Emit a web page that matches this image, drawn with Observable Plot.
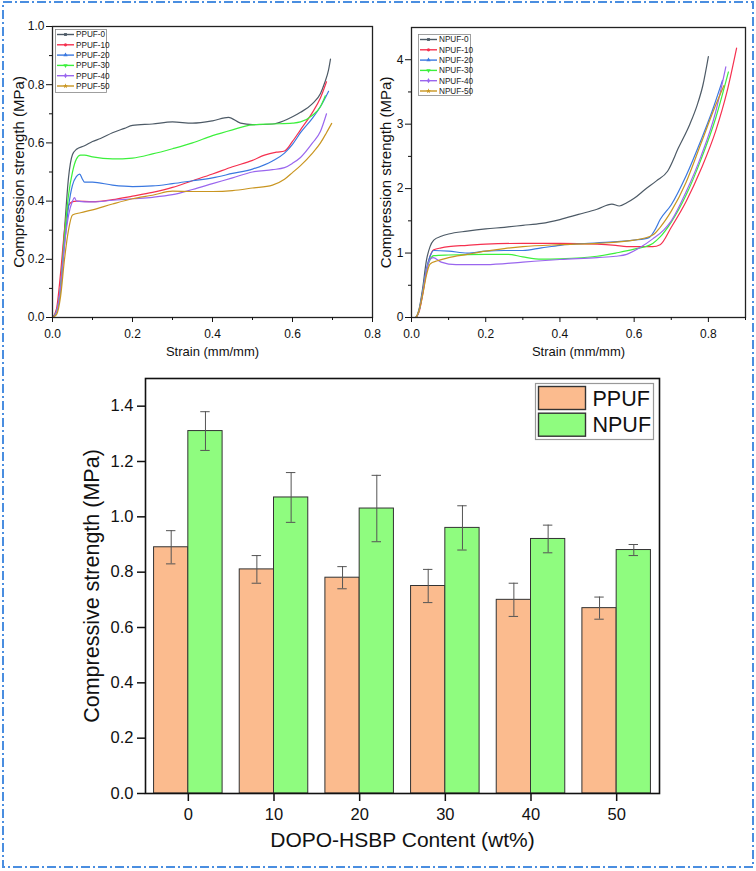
<!DOCTYPE html>
<html><head><meta charset="utf-8">
<script src="https://cdn.jsdelivr.net/npm/d3@7"></script>
<script src="https://cdn.jsdelivr.net/npm/@observablehq/plot@0.6"></script>
<style>
body{margin:0;background:#fff;}
#fig{position:relative;width:756px;height:871px;overflow:hidden;background:#fff;font-family:"Liberation Sans",Arial,sans-serif;}
</style></head><body><div id="fig"></div>
<script>
// ---------- DATA: stress-strain curves (strain mm/mm, stress MPa) ----------
const PPUF_0 = [[0,0],[0.01,0.02],[0.02,0.1],[0.03,0.3],[0.04,0.48],[0.05,0.56],[0.06,0.578],[0.08,0.59],[0.1,0.605],[0.12,0.615],[0.15,0.635],[0.18,0.65],[0.2,0.66],[0.25,0.665],[0.3,0.672],[0.35,0.668],[0.4,0.676],[0.44,0.688],[0.47,0.668],[0.5,0.663],[0.55,0.665],[0.58,0.677],[0.6,0.69],[0.62,0.705],[0.65,0.735],[0.67,0.77],[0.68,0.805],[0.69,0.85],[0.695,0.888]];
const PPUF_10 = [[0,0],[0.01,0.03],[0.02,0.15],[0.03,0.3],[0.04,0.385],[0.05,0.398],[0.06,0.4],[0.1,0.398],[0.15,0.405],[0.2,0.417],[0.25,0.43],[0.3,0.447],[0.35,0.47],[0.4,0.493],[0.45,0.518],[0.5,0.54],[0.53,0.558],[0.56,0.568],[0.58,0.572],[0.6,0.605],[0.62,0.645],[0.65,0.705],[0.67,0.755],[0.685,0.81]];
const PPUF_20 = [[0,0],[0.01,0.02],[0.02,0.1],[0.03,0.25],[0.04,0.38],[0.05,0.455],[0.06,0.485],[0.068,0.493],[0.075,0.475],[0.08,0.465],[0.1,0.465],[0.15,0.455],[0.2,0.45],[0.25,0.452],[0.3,0.46],[0.35,0.47],[0.4,0.48],[0.45,0.495],[0.5,0.51],[0.55,0.538],[0.58,0.565],[0.6,0.595],[0.62,0.635],[0.65,0.685],[0.67,0.725],[0.69,0.777]];
const PPUF_30 = [[0,0],[0.01,0.02],[0.02,0.1],[0.03,0.28],[0.04,0.42],[0.05,0.5],[0.06,0.545],[0.07,0.558],[0.08,0.558],[0.1,0.552],[0.15,0.545],[0.2,0.548],[0.25,0.562],[0.3,0.58],[0.35,0.6],[0.4,0.625],[0.45,0.645],[0.5,0.662],[0.55,0.665],[0.6,0.668],[0.62,0.672],[0.65,0.695],[0.67,0.725],[0.682,0.762]];
const PPUF_40 = [[0,0],[0.01,0.02],[0.02,0.1],[0.03,0.25],[0.04,0.35],[0.05,0.4],[0.055,0.412],[0.06,0.4],[0.1,0.397],[0.15,0.403],[0.2,0.408],[0.25,0.413],[0.3,0.422],[0.35,0.44],[0.4,0.46],[0.45,0.48],[0.5,0.5],[0.55,0.508],[0.58,0.515],[0.6,0.53],[0.62,0.55],[0.65,0.6],[0.67,0.64],[0.685,0.7]];
const PPUF_50 = [[0,0],[0.01,0.01],[0.02,0.07],[0.03,0.2],[0.04,0.3],[0.05,0.352],[0.07,0.36],[0.1,0.37],[0.15,0.39],[0.2,0.408],[0.25,0.42],[0.3,0.434],[0.35,0.433],[0.4,0.433],[0.45,0.436],[0.5,0.445],[0.55,0.455],[0.58,0.475],[0.6,0.498],[0.62,0.522],[0.65,0.565],[0.67,0.6],[0.685,0.635],[0.698,0.667]];

const NPUF_0 = [[0,0],[0.01,0],[0.02,0.12],[0.03,0.45],[0.04,0.88],[0.05,1.1],[0.06,1.2],[0.08,1.26],[0.1,1.295],[0.15,1.34],[0.2,1.375],[0.25,1.4],[0.3,1.43],[0.35,1.46],[0.4,1.52],[0.45,1.6],[0.5,1.68],[0.54,1.76],[0.56,1.73],[0.58,1.78],[0.6,1.85],[0.63,1.99],[0.66,2.12],[0.69,2.27],[0.72,2.64],[0.75,3.0],[0.77,3.3],[0.785,3.6],[0.8,4.05]];
const NPUF_10 = [[0,0],[0.01,0],[0.02,0.08],[0.03,0.35],[0.04,0.7],[0.05,0.95],[0.06,1.05],[0.08,1.08],[0.1,1.1],[0.15,1.12],[0.2,1.14],[0.3,1.15],[0.4,1.15],[0.5,1.14],[0.55,1.12],[0.58,1.1],[0.62,1.1],[0.65,1.1],[0.67,1.13],[0.7,1.4],[0.74,1.8],[0.78,2.3],[0.82,2.9],[0.85,3.5],[0.876,4.18]];
const NPUF_20 = [[0,0],[0.01,0],[0.02,0.1],[0.03,0.4],[0.04,0.75],[0.05,0.95],[0.06,1.04],[0.1,1.03],[0.15,1.0],[0.2,1.03],[0.25,1.04],[0.3,1.04],[0.35,1.08],[0.4,1.12],[0.5,1.16],[0.6,1.2],[0.64,1.24],[0.655,1.35],[0.67,1.52],[0.7,1.75],[0.74,2.2],[0.78,2.75],[0.81,3.2],[0.838,3.68]];
const NPUF_30 = [[0,0],[0.01,0],[0.02,0.1],[0.03,0.38],[0.04,0.72],[0.05,0.9],[0.06,0.96],[0.1,0.97],[0.2,0.98],[0.26,0.98],[0.3,0.94],[0.35,0.905],[0.4,0.91],[0.5,0.95],[0.55,1.0],[0.6,1.06],[0.65,1.15],[0.67,1.25],[0.7,1.48],[0.74,1.9],[0.78,2.45],[0.82,3.1],[0.854,3.81]];
const NPUF_40 = [[0,0],[0.01,0],[0.02,0.1],[0.03,0.38],[0.04,0.72],[0.05,0.9],[0.058,0.93],[0.08,0.86],[0.12,0.82],[0.2,0.82],[0.3,0.86],[0.4,0.9],[0.5,0.93],[0.55,0.95],[0.58,0.98],[0.62,1.1],[0.65,1.22],[0.68,1.36],[0.7,1.5],[0.74,1.95],[0.78,2.5],[0.82,3.2],[0.847,3.89]];
const NPUF_50 = [[0,0],[0.01,0],[0.02,0.1],[0.03,0.35],[0.04,0.65],[0.05,0.83],[0.07,0.88],[0.1,0.93],[0.15,0.98],[0.2,1.03],[0.25,1.07],[0.3,1.1],[0.4,1.13],[0.5,1.15],[0.6,1.2],[0.65,1.28],[0.67,1.4],[0.7,1.65],[0.74,2.1],[0.78,2.7],[0.82,3.3],[0.842,3.6]];

const ppufNames = ["PPUF-0","PPUF-10","PPUF-20","PPUF-30","PPUF-40","PPUF-50"];
const npufNames = ["NPUF-0","NPUF-10","NPUF-20","NPUF-30","NPUF-40","NPUF-50"];
const seriesColors = ["#4d5a66","#f5304f","#3a78e0","#3cf03c","#9a66ee","#c99520"];

// tick values
const strainTicks = [0,0.2,0.4,0.6,0.8];
const strainMinorLeft = [0.1,0.3,0.5,0.7];
const strainMinorRight = [0.1,0.3,0.5,0.7,0.9];
const ppufStressTicks = [0,0.2,0.4,0.6,0.8,1.0];
const ppufStressMinor = [0.1,0.3,0.5,0.7,0.9];
const npufStressTicks = [0,1,2,3,4];
const npufStressMinor = [0.5,1.5,2.5,3.5];

// ---------- DATA: bar chart ----------
const contents = [0,10,20,30,40,50];
const ppufMean = [0.89,0.81,0.78,0.75,0.70,0.67];
const ppufErr  = [0.06,0.05,0.04,0.06,0.06,0.04];
const npufMean = [1.31,1.07,1.03,0.96,0.92,0.88];
const npufErr  = [0.07,0.09,0.12,0.08,0.05,0.02];
const barGroups = ["PPUF","NPUF"];
const barColors = ["#fbbb8e","#8ffc7f"];
const barStressTicks = [0,0.2,0.4,0.6,0.8,1.0,1.2,1.4];

// ---------- BUILD ----------
const fig = document.getElementById("fig");
const FONT = "'Liberation Sans', Arial, Helvetica, sans-serif";
function place(node, left, top){ node.style.position="absolute"; node.style.left=left+"px"; node.style.top=top+"px"; fig.appendChild(node); }

function toRows(arrays, names){
  return arrays.flatMap((arr,i)=>arr.map(([x,y])=>({name:names[i], strain:x, stress:y})));
}

function lineChart(o){
  return Plot.plot({
    width: 378, height: 370,
    marginLeft: o.ml, marginRight: o.mr, marginTop: o.mt, marginBottom: 370 - 317,
    x: {domain: o.xDomain},
    y: {domain: o.yDomain},
    color: {domain: o.names, range: seriesColors},
    style: {background: "none", overflow: "visible", fontFamily: FONT, color: "#111"},
    marks: [
      Plot.line(o.rows, {x: "strain", y: "stress", z: "name", stroke: "name", strokeWidth: 1.2, curve: "monotone-x"}),
      Plot.frame({stroke: "#222", strokeWidth: 1.3}),
      Plot.axisX({ticks: strainTicks, tickSize: 5, tickPadding: 7, tickFormat: ".1f", label: null, fontSize: 12}),
      Plot.axisX({ticks: o.xMinor, tickSize: 3, tickFormat: () => "", label: null}),
      Plot.axisY({ticks: o.yTicks, tickSize: 6, tickPadding: 2, tickFormat: o.yFormat, label: null, fontSize: 12}),
      Plot.axisY({ticks: o.yMinor, tickSize: 3, tickFormat: () => "", label: null}),
      Plot.text(["Strain (mm/mm)"], {text: d => d, frameAnchor: "bottom", dy: 38, fontSize: 13, fill: "#111"}),
      Plot.text(["Compression strength (MPa)"], {text: d => d, frameAnchor: "left", textAnchor: "middle", dx: o.ylabDx, rotate: -90, fontSize: 15, fill: "#111"})
    ]
  });
}

const left = lineChart({
  rows: toRows([PPUF_0,PPUF_10,PPUF_20,PPUF_30,PPUF_40,PPUF_50], ppufNames), names: ppufNames,
  ml: 52, mr: 6, mt: 26, xDomain: [0,0.8], yDomain: [0,1],
  xMinor: strainMinorLeft, yTicks: ppufStressTicks, yMinor: ppufStressMinor, yFormat: ".1f", ylabDx: -33
});
place(left, 0, 0);

const right = lineChart({
  rows: toRows([NPUF_0,NPUF_10,NPUF_20,NPUF_30,NPUF_40,NPUF_50], npufNames), names: npufNames,
  ml: 33, mr: 11, mt: 27, xDomain: [0,0.9], yDomain: [0,4.5],
  xMinor: strainMinorRight, yTicks: npufStressTicks, yMinor: npufStressMinor, yFormat: "d", ylabDx: -25
});
place(right, 378, 0);

// small legends for line charts
function lineLegend(names, x, y, w, h){
  const svg = d3.create("svg").attr("width", w).attr("height", h).style("overflow","visible");
  svg.append("rect").attr("x",0.5).attr("y",0.5).attr("width",w-1).attr("height",h-1).attr("fill","#fff").attr("stroke","#888").attr("stroke-width",0.8);
  const symbols = [d3.symbolSquare, d3.symbolCircle, d3.symbolTriangle, d3.symbolTriangle, d3.symbolDiamond, d3.symbolStar];
  names.forEach((n,i)=>{
    const cy = 5.5 + i*10.3;
    svg.append("line").attr("x1",2).attr("x2",19).attr("y1",cy).attr("y2",cy).attr("stroke",seriesColors[i]).attr("stroke-width",1.4);
    svg.append("path").attr("d", d3.symbol(symbols[i], 8)()).attr("transform",`translate(10.5,${cy})${i===3?" rotate(180)":""}`).attr("fill",seriesColors[i]);
    svg.append("text").attr("x",21).attr("y",cy).attr("dy","0.35em").attr("font-size",8.2).attr("font-family",FONT).attr("fill","#222").text(n);
  });
  place(svg.node(), x, y);
}
lineLegend(ppufNames, 55, 29, 52, 64);
lineLegend(npufNames, 418, 34, 53, 62);

// ---------- BAR CHART ----------
const barRows = contents.flatMap((c,i)=>[
  {content:c, group:"PPUF", value:ppufMean[i], err:ppufErr[i], side:-1},
  {content:c, group:"NPUF", value:npufMean[i], err:npufErr[i], side:1}
]);
const barW = 4;      // bar width in x units
const capW = 0.55;   // half cap width in x units
const center = d => d.content + d.side*barW/2;

const bars = Plot.plot({
  width: 756, height: 511,
  marginLeft: 145, marginRight: 97, marginTop: 18, marginBottom: 78,
  x: {domain: [-5, 55]},
  y: {domain: [0, 1.5]},
  color: {domain: barGroups, range: barColors},
  style: {background: "none", overflow: "visible", fontFamily: FONT, color: "#111"},
  marks: [
    Plot.rectY(barRows, {x1: d => d.side < 0 ? d.content - barW : d.content, x2: d => d.side < 0 ? d.content : d.content + barW, y: "value", fill: "group", stroke: "#333", strokeWidth: 1}),
    Plot.ruleX(barRows, {x: center, y1: d => d.value - d.err, y2: d => d.value + d.err, stroke: "#555", strokeWidth: 1}),
    Plot.ruleY(barRows, {y: d => d.value + d.err, x1: d => center(d) - capW, x2: d => center(d) + capW, stroke: "#555", strokeWidth: 1}),
    Plot.ruleY(barRows, {y: d => d.value - d.err, x1: d => center(d) - capW, x2: d => center(d) + capW, stroke: "#555", strokeWidth: 1}),
    Plot.frame({stroke: "#111", strokeWidth: 1.6}),
    Plot.axisX({ticks: contents, tickSize: 8, tickPadding: 7, tickFormat: "d", label: null, fontSize: 16.5, strokeWidth: 1.5}),
    Plot.axisY({ticks: barStressTicks, tickSize: 8, tickPadding: 4, tickFormat: ".1f", label: null, fontSize: 16.5, strokeWidth: 1.5}),
    Plot.text(["DOPO-HSBP Content (wt%)"], {text: d => d, frameAnchor: "bottom", dy: 53.5, fontSize: 21, fill: "#111"}),
    Plot.text(["Compressive strength (MPa)"], {text: d => d, frameAnchor: "left", textAnchor: "middle", dx: -53, rotate: -90, fontSize: 21.5, fill: "#111"})
  ]
});
place(bars, 0, 360);

// bar legend
(function(){
  const w = 119, h = 57;
  const svg = d3.create("svg").attr("width", w).attr("height", h).style("overflow","visible");
  svg.append("rect").attr("x",0.5).attr("y",0.5).attr("width",w-1).attr("height",h-1).attr("fill","#fff").attr("stroke","#999").attr("stroke-width",1.2);
  barGroups.forEach((g,i)=>{
    const y0 = 3.5 + i*26.7;
    svg.append("rect").attr("x",3.5).attr("y",y0).attr("width",47).attr("height",23).attr("fill",barColors[i]).attr("stroke","#333").attr("stroke-width",1.4);
    svg.append("text").attr("x",57.5).attr("y",y0+11.5).attr("dy","0.36em").attr("font-size",21.5).attr("font-family",FONT).attr("fill","#111").text(g);
  });
  place(svg.node(), 535, 383);
})();

// dash-dot outer border
(function(){
  const svg = d3.create("svg").attr("width",756).attr("height",871);
  svg.append("rect").attr("x",3).attr("y",2).attr("width",750).attr("height",865)
    .attr("fill","none").attr("stroke","#4a8ee0").attr("stroke-width",2).attr("stroke-dasharray","9 3 2 3");
  svg.style("pointer-events","none");
  place(svg.node(), 0, 0);
})();
</script>
</body></html>
